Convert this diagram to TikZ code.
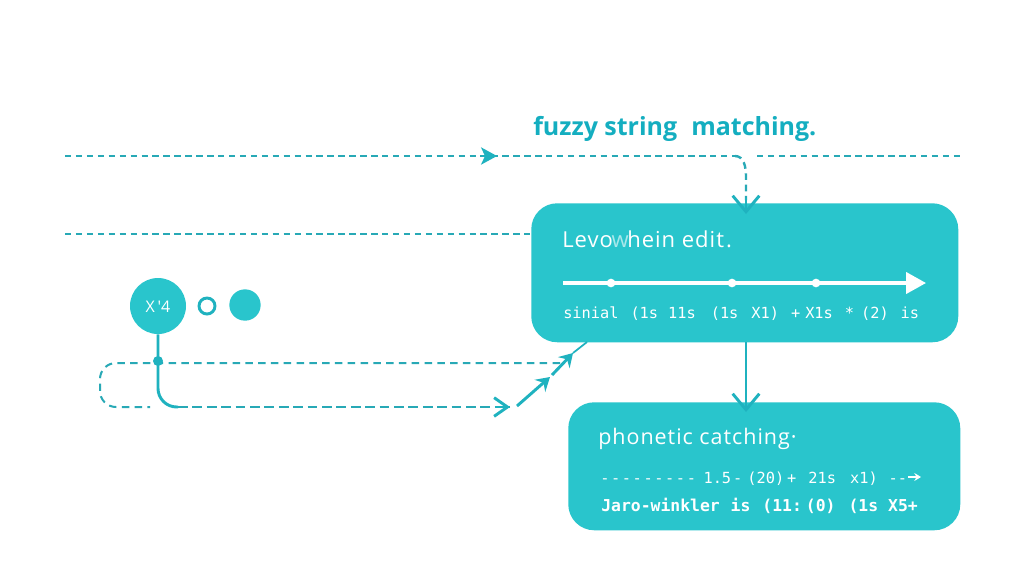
\documentclass[tikz,border=0pt]{standalone}
\usepackage{fontspec}
\setmainfont{Open Sans}
\setmonofont{DejaVu Sans Mono}
\newfontfamily\spacedfont[LetterSpace=4.5]{Open Sans}
\usetikzlibrary{arrows.meta}
\definecolor{boxc}{HTML}{29C5CC}
\definecolor{linec}{HTML}{1FB2BF}
\definecolor{dashc}{HTML}{28A9B6}
\definecolor{titlec}{HTML}{14AEC0}
\newcommand{\pxfont}[1]{\fontsize{\dimexpr #1pt*3/4\relax}{\dimexpr #1pt*3/4\relax}\selectfont}
\newcommand{\dsh}{-\kern1.2pt}
\newcommand{\gp}[1]{\kern\dimexpr #1pt*3/4\relax}
\tikzset{
  x=0.75pt,y=-0.75pt,
  panel/.style={fill=boxc,draw=none,rounded corners=19.5pt,inner sep=0pt,anchor=north west},
  lbl/.style={text=white,inner sep=0pt,anchor=base west},
  flow/.style={draw=linec,line width=2.2pt},
  thinline/.style={draw=dashc,line width=1.15pt,dash pattern=on 4.8pt off 3.4pt},
  loopline/.style={draw=dashc,line width=1.5pt,dash pattern=on 5.6pt off 4pt},
  mainline/.style={draw=dashc,line width=2.2pt,dash pattern=on 7.4pt off 3.4pt},
  barb/.style={-{Straight Barb[length=12pt,width=20pt,line width=2.2pt]}},
  tipfill/.style={-{Stealth[length=10pt,width=12pt,inset=3.5pt]}},
  dotn/.style={circle,fill=white,inner sep=0pt,minimum size=6.5pt},
}
\begin{document}
\begin{tikzpicture}
\useasboundingbox (0,0) rectangle (1024,576);
\fill[white] (0,0) rectangle (1024,576);

% coordinates
\coordinate (t0) at (65,156);
\coordinate (tm) at (497,156);
\coordinate (t1) at (735,156);
\coordinate (r0) at (757,156);
\coordinate (r1) at (964,156);
\coordinate (s0) at (65,234);
\coordinate (s1) at (530,234);
\coordinate (l0) at (560,363);
\coordinate (l1) at (150,407);
\coordinate (n0) at (510,407);
\coordinate (a0) at (517,406);
\coordinate (a1) at (550,377);
\coordinate (a2) at (552,375);
\coordinate (a3) at (573,353);
\coordinate (a4) at (587,342);
\coordinate (i0) at (563,283);
\coordinate (i1) at (926,283);
\coordinate (in1) at (746,214);
\coordinate (out1) at (746,342);
\coordinate (in2) at (746,412);

% title
\node[text=titlec,inner sep=0pt,anchor=base west] (title) at (533,135) {\pxfont{25}\bfseries fuzzy string\hspace{0.3em} matching.};

% dashed lines behind
\draw[thinline] (t0) -- (t1);
\draw[thinline] (r0) -- (r1);
\draw[thinline] (s0) -- (s1);
\draw[linec,line width=1.2pt,-{Stealth[length=12pt,width=13pt,inset=3pt]}] (482,156) -- (tm);

% panels
\node[panel,minimum width=320.25pt,minimum height=104.25pt] (lev) at (531,203) {};
\node[panel,minimum width=294pt,minimum height=96pt] (pho) at (568,402) {};

% panel 1 content
\node[lbl] (levt) at (562,247) {\spacedfont\pxfont{22}Levo\textcolor{white!60!boxc}{\kern-1pt w\kern-1pt}hein edit\kern1.5pt.};
\draw[white,line width=2.4pt,-{Triangle[length=15pt,width=16pt]}] (i0) -- (i1);
\node[dotn] (d1) at (611,283) {};
\node[dotn] (d2) at (732,283) {};
\node[dotn] (d3) at (816,283) {};
\node[lbl] (levf) at (563,318) {\ttfamily\pxfont{15.3}sinial\gp{12}(1s\gp{10}11s\gp{15}(1s\gp{13}X1)\gp{12}+\gp{5}X1s\gp{12}*\gp{7}(2)\gp{12}is};

% panel 2 content
\node[lbl] (phot) at (598,444) {\spacedfont\pxfont{21.5}phonetic catching\textperiodcentered};
\node[lbl] (pho1) at (600,483) {\ttfamily\pxfont{15.3}\dsh\dsh\dsh\dsh\dsh\dsh\dsh\dsh\dsh\gp{6}1.5\gp{2}-\gp{5}(20)\gp{3}+\gp{12}21s\gp{14}x1)\gp{11}--};
\coordinate (pa0) at (908,477);
\coordinate (pa1) at (921,477);
\draw[white,line width=1.1pt,-{Stealth[length=5pt,width=6pt]}] (pa0) -- (pa1);
\node[lbl] (pho2) at (601,511) {\ttfamily\pxfont{16.4}\bfseries Jaro-winkler\gp{11}is\gp{12}(11:\gp{4}(0)\gp{13}(1s\gp{10}X5+};

% circles
\node[circle,fill=boxc,minimum size=42pt,inner sep=0pt] (x) at (158,306) {};
\node[text=white,inner sep=0pt] (xl) at (158,307) {\pxfont{16}X\,\textquotesingle4};
\node[circle,draw=linec,line width=2.2pt,fill=white,minimum size=12pt,inner sep=0pt] (ring) at (207,306) {};
\node[circle,fill=boxc,minimum size=23.5pt,inner sep=0pt] (fc) at (245,305) {};

% left connectors
\draw[loopline,rounded corners=12pt] (l0) -- (100,363) -- (100,407) -- (l1);
\node[circle,fill=linec,minimum size=7.5pt,inner sep=0pt] (j) at (158,361) {};
\draw[flow,rounded corners=14pt] (x.south) -- (158,407) -- (178,407);
\draw[mainline] (178,407) -- (n0);
\draw[flow,-{Straight Barb[length=10pt,width=14pt,line width=2.2pt]}] (495,407) -- (n0);

\draw[flow,tipfill] (a0) -- (a1);
\draw[flow,tipfill] (a2) -- (a3);
\draw[linec,line width=1.3pt] (a3) -- (a4);

% arrows into panels
\draw[draw=dashc,line width=1.8pt,dash pattern=on 5pt off 3.5pt] (t1) to[out=0,in=90] (746,176) -- (746,200);
\draw[linec,line width=2.2pt,barb] (746,198) -- (in1);
\draw[flow,barb] (out1) -- (in2);
\end{tikzpicture}
\end{document}
